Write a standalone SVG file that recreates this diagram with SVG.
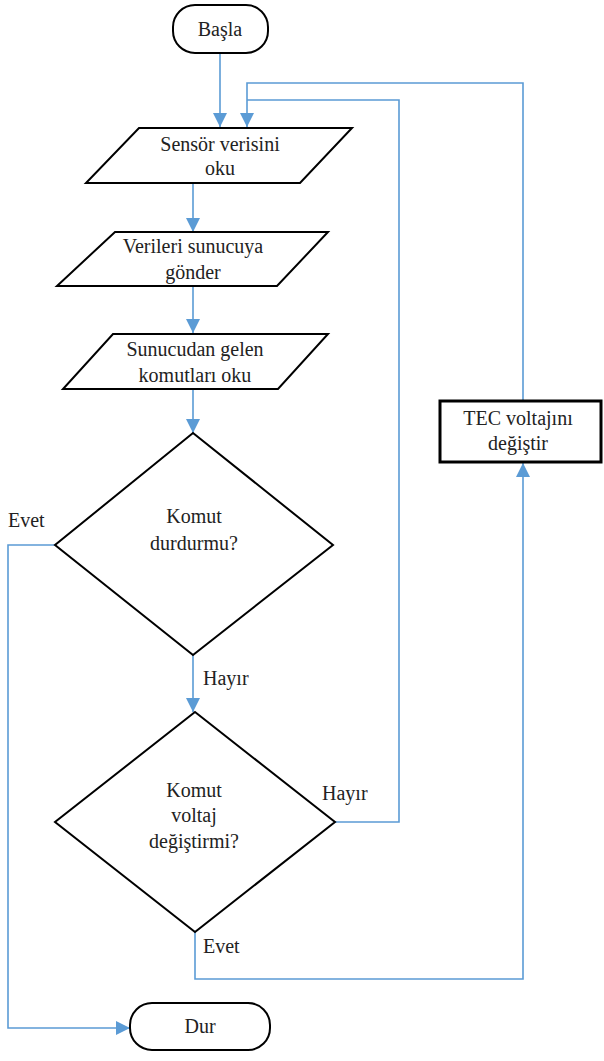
<svg xmlns="http://www.w3.org/2000/svg" width="604" height="1061" viewBox="0 0 604 1061">
<style>
.shape{fill:#fff;stroke:#000;stroke-width:2;stroke-linejoin:miter}
text{font-family:'Liberation Serif','Times New Roman',Times,'DejaVu Serif',serif;font-size:20px;fill:#222}
.t{text-anchor:middle}
.c{fill:none;stroke:#5b9bd5;stroke-width:1.6}
</style>
<defs>
<marker id="ah" markerUnits="userSpaceOnUse" markerWidth="14" markerHeight="14" refX="14" refY="7" orient="auto">
<path d="M0,0 L14,7 L0,14 z" fill="#5b9bd5"/>
</marker>
</defs>
<rect width="604" height="1061" fill="#fff"/>
<g id="connectors">
<path class="c" d="M220,53 V127" marker-end="url(#ah)"/>
<path class="c" d="M523,401 V83 H247 V127" marker-end="url(#ah)"/>
<path class="c" d="M335,822 H399 V100 H247"/>
<path class="c" d="M193,183 V232" marker-end="url(#ah)"/>
<path class="c" d="M193,286 V333" marker-end="url(#ah)"/>
<path class="c" d="M193,389 V433" marker-end="url(#ah)"/>
<path class="c" d="M55,545 H8 V1028 H130" marker-end="url(#ah)"/>
<path class="c" d="M193,655 V712" marker-end="url(#ah)"/>
<path class="c" d="M195,932 V979 H523 V463" marker-end="url(#ah)"/>
</g>
<g id="start">
<rect class="shape" x="173" y="5" width="95" height="48" rx="22"/>
<text class="t" x="220" y="36">Başla</text>
</g>
<g id="read-sensor">
<polygon class="shape" points="139,128 352,128 300,183 86,183"/>
<text class="t" x="220" y="151">Sensör verisini</text>
<text class="t" x="220" y="175">oku</text>
</g>
<g id="send-data">
<polygon class="shape" points="115,232 328,232 277,286 57,286"/>
<text class="t" x="193" y="253">Verileri sunucuya</text>
<text class="t" x="193" y="279">gönder</text>
</g>
<g id="read-commands">
<polygon class="shape" points="113,334 328,334 278,389 63,389"/>
<text class="t" x="195" y="356">Sunucudan gelen</text>
<text class="t" x="195" y="382">komutları oku</text>
</g>
<g id="decision-stop">
<polygon class="shape" points="193,433 333,545 193,655 55,545"/>
<text class="t" x="194" y="523">Komut</text>
<text class="t" x="194" y="550">durdurmu?</text>
</g>
<g id="decision-voltage">
<polygon class="shape" points="195,712 335,822 195,932 55,822"/>
<text class="t" x="194" y="797">Komut</text>
<text class="t" x="194" y="822">voltaj</text>
<text class="t" x="194" y="848">değiştirmi?</text>
</g>
<g id="change-voltage">
<rect class="shape" x="440" y="401" width="161" height="61" style="stroke-width:3"/>
<text class="t" x="518" y="425">TEC voltajını</text>
<text class="t" x="518" y="450">değiştir</text>
</g>
<g id="stop">
<rect class="shape" x="130" y="1003" width="140" height="47" rx="22"/>
<text class="t" x="200" y="1033">Dur</text>
</g>
<g id="labels">
<text x="8" y="527">Evet</text>
<text x="203" y="685">Hayır</text>
<text x="322" y="800">Hayır</text>
<text x="203" y="953">Evet</text>
</g>
</svg>
